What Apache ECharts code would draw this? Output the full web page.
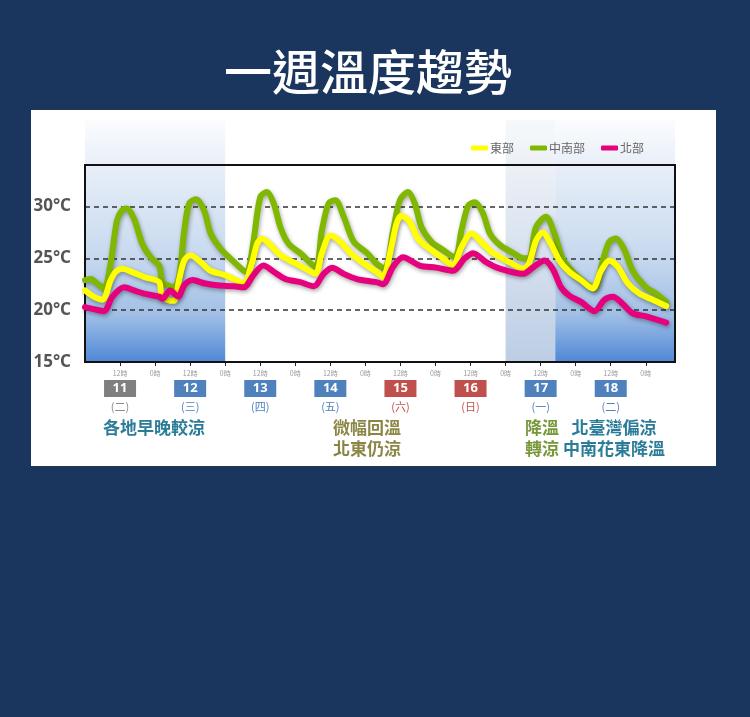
<!DOCTYPE html>
<html><head><meta charset="utf-8">
<script src="https://cdn.jsdelivr.net/npm/echarts@6/dist/echarts.min.js"></script>
<style>
html,body{margin:0;padding:0;background:#1b365e;width:750px;height:717px;overflow:hidden;}
#panel{position:absolute;left:31px;top:110px;width:685px;height:356px;background:#fff;}
#main{position:absolute;left:0;top:0;width:750px;height:717px;}
</style></head>
<body><div id="panel"></div><div id="main"></div>
<script>
// hours since 0時 on the 11th, temperature °C
const central = [[0,22.9],[2,23.0],[4,22.6],[6.5,22.1],[8.6,24.2],[10.9,28.6],[12.6,29.6],[14.3,29.8],[16.8,28.8],[19.6,26.4],[22.5,25.1],[25.4,24.3],[26.5,22.7],[28.2,22.4],[30.5,22.2],[32.2,23.2],[34,27.7],[35.7,30.3],[38,30.7],[40.8,29.6],[43,27.4],[46.5,25.9],[49.7,25.0],[54.3,23.8],[55.5,23.7],[57.7,26.7],[60,30.9],[62.3,31.4],[64.6,30.3],[66.9,28.0],[69.7,26.4],[73.7,25.5],[78.9,24.2],[81.1,27.7],[83.4,30.3],[85.7,30.6],[88.6,29.0],[92,26.6],[96.6,25.5],[99.8,24.5],[102.6,24.0],[105.5,27.7],[107.8,30.6],[110.6,31.4],[112.9,30.3],[115.2,28.0],[118.6,26.6],[122.6,25.8],[126.6,25.1],[128.9,27.7],[131.2,30.1],[133.5,30.4],[136.3,29.3],[138.6,27.4],[142,26.3],[146.6,25.5],[150,25.0],[152,25.0],[154.4,28.0],[157.8,29.0],[160.7,27.4],[163.5,25.0],[167,23.7],[171,22.7],[174.4,22.1],[177.3,24.8],[179.5,26.6],[181.8,26.9],[184.7,25.8],[187.5,23.8],[192.1,22.2],[195.5,21.6],[199,20.8]];
const east = [[0,21.9],[3,21.3],[6,21.0],[8.8,22.9],[10.5,23.7],[12.8,24.0],[16.8,23.6],[20.2,23.2],[25.4,22.7],[26.2,21.3],[28.2,21.0],[30.5,20.9],[32.2,22.9],[34,24.8],[36.2,25.3],[39.7,24.6],[43,23.8],[47.7,23.4],[51,23.0],[54.3,22.6],[57.1,24.5],[58.9,26.4],[60.6,26.9],[63.4,26.3],[66.9,25.3],[71.4,24.6],[75.4,24.0],[78.9,23.5],[81.1,25.5],[84,27.2],[87.4,26.6],[90.9,25.5],[95.4,24.5],[99.8,23.7],[102,23.2],[104.9,26.1],[106.6,28.3],[108.3,29.1],[111.2,28.5],[114,26.9],[118,25.9],[122.6,25.0],[126,24.3],[128.9,26.1],[132.3,27.4],[136.3,26.4],[139.8,25.5],[145.5,24.6],[150,24.0],[152,24.5],[154.4,26.7],[156.7,27.5],[159.5,26.4],[162.4,24.8],[165.8,23.7],[169.8,22.9],[173.8,22.1],[176.7,23.8],[179.5,24.8],[182.4,24.2],[185.8,22.6],[189.8,21.6],[194.4,21.0],[199,20.4]];
const north = [[0,20.3],[3,20.1],[6.5,19.9],[9.4,21.3],[13.4,22.2],[16.8,21.9],[20.2,21.6],[25.4,21.3],[26.5,21.1],[29.1,21.9],[31.9,21.3],[34,22.4],[36.8,22.9],[40.8,22.6],[45.4,22.4],[51,22.3],[54.3,22.2],[57.7,23.4],[61.1,24.3],[64.6,23.7],[68.6,23.0],[73.7,22.7],[78.3,22.3],[81.7,23.5],[84.6,24.1],[88.6,23.5],[93.1,23.0],[99.8,22.7],[102,22.5],[105.5,24.2],[108.9,25.1],[114.6,24.3],[120.3,24.1],[126,23.8],[130,25.0],[132.9,25.5],[137.5,24.6],[142,24.0],[150,23.5],[153.3,24.1],[157.3,24.8],[160.1,24.0],[163,22.2],[165.8,21.4],[169.8,20.8],[174.4,19.9],[177.8,21.0],[180.7,21.3],[184.1,20.6],[187.5,19.7],[192.1,19.4],[199,18.8]];

const seriesNames = ['東部','中南部','北部'];
const days = ['11','12','13','14','15','16','17','18'];
const weekdays = ['(二)','(三)','(四)','(五)','(六)','(日)','(一)','(二)'];
const dayColors = ['#7f7f7f','#4f81bd','#4f81bd','#4f81bd','#c0504d','#c0504d','#4f81bd','#4f81bd'];
const weekColors = ['#8a8a8a','#4f81bd','#4f81bd','#4f81bd','#c0504d','#c0504d','#4f81bd','#4f81bd'];
// shaded periods (hours)
const coolPeriods = [[0,48,'dark'],[144,161,'light'],[161,202,'dark']];
const yTicks = [15,20,25,30];
const notes = [
  {lines:['各地早晚較涼'], x:154, color:'#2b7c98'},
  {lines:['微幅回溫','北東仍涼'], x:367, color:'#8b8646'},
  {lines:['降溫','轉涼'], x:542, color:'#77983a'},
  {lines:['北臺灣偏涼','中南花東降溫'], x:614, color:'#2b7c98'}
];

const X_MAX = 202;
const rich = { h: {fontSize:7, color:'#9a9a9a', lineHeight:12, fontFamily:'Noto Sans CJK TC'} };
days.forEach((d,i)=>{
  rich['b'+i] = {backgroundColor:dayColors[i], color:'#fff', width:32, height:17, lineHeight:19, align:'center', fontSize:13, fontWeight:'bold', fontFamily:'Noto Sans'};
  rich['w'+i] = {color:weekColors[i], fontSize:11, lineHeight:18, fontFamily:'Noto Sans CJK TC'};
});

function grad(kind){
  if (kind==='dark') return new echarts.graphic.LinearGradient(0,0,0,1,[
    {offset:0,color:'#fbfcfe'},{offset:0.2,color:'#e7eef8'},{offset:0.55,color:'#c9daef'},{offset:0.8,color:'#a2c0e6'},{offset:1,color:'#4f88d6'}]);
  return new echarts.graphic.LinearGradient(0,0,0,1,[
    {offset:0,color:'#f6f8fb'},{offset:0.3,color:'#e6ecf4'},{offset:1,color:'#bccde5'}]);
}

const graphics = [{type:'text', style:{text:'一週溫度趨勢', x:368, y:72, align:'center', verticalAlign:'middle', fill:'#fff', fontSize:48, fontWeight:500, fontFamily:'Noto Sans CJK TC'}}];
notes.forEach(n=>{
  n.lines.forEach((t,j)=>{
    graphics.push({type:'text', style:{text:t, x:n.x, y:428+j*21, align:'center', verticalAlign:'middle', fill:n.color, fontSize:17, fontWeight:'bold', fontFamily:'Noto Sans CJK TC'}});
  });
});

const lineColors = {'東部':'#ffff00','中南部':'#80b800','北部':'#e6007e'};
function lineSeries(name, data){
  return {name, type:'line', data, xAxisIndex:0, yAxisIndex:0, smooth:0.3, showSymbol:false, symbol:'none', z:7,
    lineStyle:{color:lineColors[name], width:6, cap:'round', join:'round', shadowColor:'rgba(0,0,0,0.35)', shadowBlur:4, shadowOffsetX:1, shadowOffsetY:2},
    itemStyle:{color:lineColors[name]}};
}

const chart = echarts.init(document.getElementById('main'), null, {renderer:'canvas'});
chart.setOption({
  backgroundColor:'transparent',
  animation:false,
  graphic: graphics,
  legend:{data:seriesNames, left:466, top:137, icon:'roundRect', itemWidth:17, itemHeight:5, itemGap:16,
    textStyle:{color:'#666', fontSize:12, fontFamily:'Noto Sans CJK TC', padding:[0,0,0,-3]}},
  grid:[
    {left:85, right:75, top:165, bottom:355, show:true, borderColor:'#111', borderWidth:2, backgroundColor:'transparent', z:6},
    {left:85, right:75, top:120, bottom:355, show:false}
  ],
  xAxis:[
    {type:'value', gridIndex:0, min:0, max:X_MAX, interval:12, z:5,
      axisLine:{show:true, lineStyle:{color:'#111', width:2}},
      axisTick:{show:true, length:4, lineStyle:{color:'#222'}},
      splitLine:{show:false},
      axisLabel:{show:true, margin:5, showMinLabel:false, showMaxLabel:false, rich,
        formatter:function(v){
          if (v % 24 === 12){ const i=(v-12)/24; return '{h|12時}\n{b'+i+'|'+days[i]+'}\n{w'+i+'|'+weekdays[i]+'}'; }
          if (v % 24 === 0) return '{h|0時}';
          return '';
        }}},
    {type:'value', gridIndex:1, min:0, max:X_MAX, show:false}
  ],
  yAxis:[
    {type:'value', gridIndex:0, min:15, max:34, interval:5, z:5,
      axisLine:{show:true, lineStyle:{color:'#111', width:2}},
      axisTick:{show:false},
      splitLine:{show:true, lineStyle:{color:'#333', width:1.5, type:[5,4]}},
      axisLabel:{margin:14, color:'#555', fontSize:17, fontWeight:'bold', fontFamily:'Noto Sans',
        formatter:function(v){ return yTicks.indexOf(v)>=0 ? v+'°C' : ''; }}},
    {type:'value', gridIndex:1, min:0, max:1, show:false}
  ],
  series:[
    {name:'shade', type:'line', xAxisIndex:1, yAxisIndex:1, data:[[0,0]], showSymbol:false, symbol:'none', silent:true, z:0,
      lineStyle:{opacity:0},
      markArea:{silent:true, z:0, data: coolPeriods.map(p=>[{xAxis:p[0], itemStyle:{color:grad(p[2])}},{xAxis:p[1]}])}},
    lineSeries('中南部', central),
    lineSeries('東部', east),
    lineSeries('北部', north)
  ]
});
</script></body></html>
